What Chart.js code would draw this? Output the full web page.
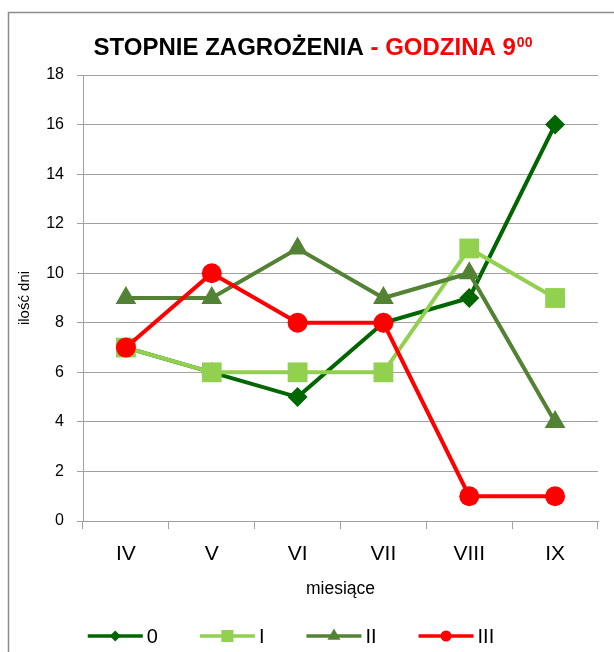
<!DOCTYPE html>
<html>
<head>
<meta charset="utf-8">
<script src="https://cdn.jsdelivr.net/npm/chart.js@4.4.0/dist/chart.umd.min.js"></script>
<style>
  html, body { margin: 0; padding: 0; background: #fff; }
</style>
</head>
<body>
<canvas id="myChart" width="614" height="652"></canvas>
<script>
// data
const months = ["IV", "V", "VI", "VII", "VIII", "IX"];
const level0 = [7, 6, 5, 8, 9, 16];
const level1 = [7, 6, 6, 6, 11, 9];
const level2 = [9, 9, 11, 9, 10, 4];
const level3 = [7, 10, 8, 8, 1, 1];
const seriesNames = ["0", "I", "II", "III"];
const yMin = 0, yMax = 18, yStep = 2;

const colors = ["#006600", "#92d050", "#548235", "#ff0000"];
const styles = ["rectRot", "rect", "triangle", "circle"];
const radii = [10, 14, 12, 10];
const legendRadii = [5.5, 8.5, 7.5, 5.5];

const gridColor = "#a0a0a0";
const fontFamily = "'Liberation Sans', Arial, sans-serif";
Chart.defaults.font.family = fontFamily;
Chart.defaults.color = "#000";

function drawMarker(ctx, style, x, y, r) {
  ctx.beginPath();
  if (style === "rectRot") {
    ctx.moveTo(x - r, y); ctx.lineTo(x, y - r); ctx.lineTo(x + r, y); ctx.lineTo(x, y + r);
    ctx.closePath();
  } else if (style === "rect") {
    const s = r * Math.SQRT1_2;
    ctx.rect(x - s, y - s, 2 * s, 2 * s);
  } else if (style === "triangle") {
    ctx.moveTo(x, y - r);
    ctx.lineTo(x + r * Math.sin(2 * Math.PI / 3), y - r * Math.cos(2 * Math.PI / 3));
    ctx.lineTo(x + r * Math.sin(4 * Math.PI / 3), y - r * Math.cos(4 * Math.PI / 3));
    ctx.closePath();
  } else {
    ctx.arc(x, y, r, 0, Math.PI * 2);
  }
  ctx.fill();
}

// frame, title and legend drawn by hand
const decorPlugin = {
  id: "decor",
  beforeDraw(chart) {
    const ctx = chart.ctx;
    ctx.save();
    ctx.fillStyle = "#fff";
    ctx.fillRect(0, 0, chart.width, chart.height);
    ctx.strokeStyle = "#8c8c8c";
    ctx.lineWidth = 1.5;
    ctx.strokeRect(8.5, 12.5, 700, 700);
    ctx.restore();
  },
  afterDraw(chart) {
    const ctx = chart.ctx;
    ctx.save();
    // title
    const big = "bold 24px " + fontFamily;
    const small = "bold 14px " + fontFamily;
    const t1 = "STOPNIE ZAGROŻENIA", t2 = " - GODZINA 9", t3 = "00";
    ctx.font = big;
    const w1 = ctx.measureText(t1).width, w2 = ctx.measureText(t2).width;
    ctx.font = small;
    const w3 = ctx.measureText(t3).width;
    let x = 313 - (w1 + w2 + w3 + 1) / 2;
    const base = 55;
    ctx.textBaseline = "alphabetic";
    ctx.textAlign = "left";
    ctx.font = big;
    ctx.fillStyle = "#000";
    ctx.fillText(t1, x, base);
    x += w1;
    ctx.fillStyle = "#ff0000";
    ctx.fillText(t2, x, base);
    x += w2 + 1;
    ctx.font = small;
    ctx.fillText(t3, x, base - 8);

    // legend
    ctx.font = "20px 'Liberation Sans Narrow', " + fontFamily;
    ctx.textBaseline = "middle";
    const lineLen = 55, textGap = 4, itemGap = 42, ly = 636;
    const widths = chart.data.datasets.map(d => lineLen + textGap + ctx.measureText(d.label).width);
    const total = widths.reduce((a, b) => a + b, 0) + itemGap * (widths.length - 1);
    let lx = 291 - total / 2;
    chart.data.datasets.forEach((d, i) => {
      ctx.strokeStyle = d.borderColor;
      ctx.fillStyle = d.borderColor;
      ctx.lineWidth = 3.5;
      ctx.beginPath();
      ctx.moveTo(lx, ly); ctx.lineTo(lx + lineLen, ly);
      ctx.stroke();
      drawMarker(ctx, d.pointStyle, lx + lineLen / 2, ly, legendRadii[i]);
      ctx.fillStyle = "#000";
      ctx.fillText(d.label, lx + lineLen + textGap, ly + 1);
      lx += widths[i] + itemGap;
    });
    ctx.restore();
  }
};

const allSeries = [level0, level1, level2, level3];
const datasets = allSeries.map((vals, i) => ({
  label: seriesNames[i],
  data: vals,
  borderColor: colors[i],
  backgroundColor: colors[i],
  pointBackgroundColor: colors[i],
  pointBorderColor: colors[i],
  pointBorderWidth: 0,
  borderWidth: 4,
  pointStyle: styles[i],
  pointRadius: radii[i],
  pointHoverRadius: radii[i],
  tension: 0,
  order: 3 - i,
}));

const ctx = document.getElementById("myChart").getContext("2d");
const myChart = new Chart(ctx, {
  type: "line",
  data: { labels: months, datasets: datasets },
  plugins: [decorPlugin],
  options: {
    responsive: false,
    animation: false,
    layout: { padding: { top: 75, right: 16, bottom: 0, left: 0 } },
    scales: {
      x: {
        offset: true,
        grid: { offset: true, drawOnChartArea: false, drawTicks: true, tickLength: 8, color: gridColor },
        border: { display: true, color: gridColor, width: 1 },
        ticks: { font: { size: 21 }, padding: 13, color: "#000" },
        title: { display: true, text: "miesiące", font: { size: 17.5 }, padding: { top: 0, bottom: 52 }, color: "#000" },
        afterFit(scale) { scale.height = 131; },
      },
      y: {
        min: yMin,
        max: yMax,
        grid: { color: gridColor, tickLength: 6 },
        border: { display: true, color: gridColor, width: 1 },
        ticks: { stepSize: yStep, font: { size: 16 }, padding: 13, color: "#000" },
        title: { display: true, text: "ilość dni", font: { size: 15 }, padding: { top: 16, bottom: 0 }, color: "#000" },
        afterFit(scale) { scale.width = 83; },
      },
    },
    plugins: {
      legend: { display: false },
      title: { display: false },
      tooltip: { enabled: true },
    },
  },
});
</script>
</body>
</html>
